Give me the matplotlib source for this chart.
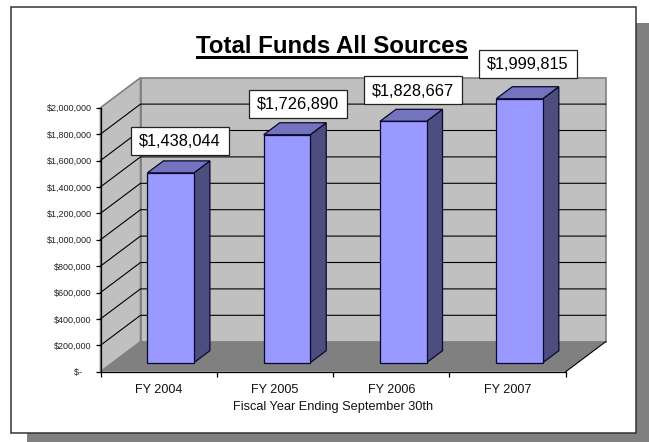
import matplotlib
matplotlib.use("Agg")
import matplotlib.pyplot as plt
from matplotlib.patches import Polygon, Rectangle
from matplotlib.path import Path

plt.rcParams['font.family'] = ['Liberation Sans', 'DejaVu Sans']

# chart values
years = ["FY 2004", "FY 2005", "FY 2006", "FY 2007"]
funds = [1438044, 1726890, 1828667, 1999815]
fund_labels = ["$1,438,044", "$1,726,890", "$1,828,667", "$1,999,815"]
grid_values = [0, 200000, 400000, 600000, 800000, 1000000,
               1200000, 1400000, 1600000, 1800000, 2000000]
grid_labels = ["$-    ", "$200,000", "$400,000", "$600,000", "$800,000", "$1,000,000",
               "$1,200,000", "$1,400,000", "$1,600,000", "$1,800,000", "$2,000,000"]

W, H = 649, 442
fig = plt.figure(figsize=(W / 100, H / 100), dpi=100, facecolor="white")


def px_rect(x0, y0, x1, y1, **kw):
    # rectangle given in image pixels, y pointing down
    return Rectangle((x0 / W, 1 - y1 / H), (x1 - x0) / W, (y1 - y0) / H,
                     transform=fig.transFigure, **kw)


# drop shadow and white frame
fig.add_artist(px_rect(27, 23, 649, 442, facecolor="#808080", edgecolor="none", zorder=-3))
fig.add_artist(px_rect(11, 7, 636, 433, facecolor="white", edgecolor="#333333",
                       linewidth=1.1, zorder=-2))

# front plane of the fake 3d box
ax = fig.add_axes([100.5 / W, 1 - 371.7 / H, 465.2 / W, 264 / H])
ax.set_xlim(0, len(years))
ax.set_ylim(0, 2000000)
ax.patch.set_visible(False)

# depth of the box in data units
dx = 40 / 116.3
dy = 30 / 264 * 2000000
n = len(years)
top = grid_values[-1]

# walls and floor
ax.add_patch(Polygon([(dx, dy), (n + dx, dy), (n + dx, top + dy), (dx, top + dy)],
                     closed=True, facecolor="#C0C0C0", edgecolor="#808080", linewidth=1.2, clip_on=False, zorder=1))
ax.add_patch(Polygon([(0, 0), (dx, dy), (dx, top + dy), (0, top)],
                     closed=True, facecolor="#C0C0C0", edgecolor="#808080", linewidth=1.2, clip_on=False, zorder=1))
ax.add_patch(Polygon([(0, 0), (dx, dy), (n + dx, dy), (n, 0)],
                     closed=True, facecolor="#808080", edgecolor="none", clip_on=False, zorder=1))
ax.plot([n, n + dx], [0, dy], color="black", lw=0.8, clip_on=False, zorder=1.5)

# gridlines run along the side wall then the back wall
for v in grid_values[1:-1]:
    ax.plot([0, dx, n + dx], [v, v + dy, v + dy], color="black", lw=0.8,
            clip_on=False, zorder=1.5)

# bars sit in the middle of the floor depth
gap = 0.3
bar_w = 0.4
d0, d1 = 0.3, 0.7
edge = "#08082A"
for i, v in enumerate(funds):
    x0 = i + gap + d0 * dx
    x1 = x0 + bar_w
    y0 = d0 * dy
    off_x = (d1 - d0) * dx
    off_y = (d1 - d0) * dy
    ax.add_patch(Polygon([(x1, y0), (x1 + off_x, y0 + off_y), (x1 + off_x, y0 + off_y + v), (x1, y0 + v)],
                         closed=True, facecolor="#4D4D80", edgecolor=edge, lw=0.9, clip_on=False, zorder=3))
    ax.add_patch(Polygon([(x0, y0 + v), (x1, y0 + v), (x1 + off_x, y0 + v + off_y), (x0 + off_x, y0 + v + off_y)],
                         closed=True, facecolor="#7373BF", edgecolor=edge, lw=0.9, clip_on=False, zorder=3))
    ax.add_patch(Rectangle((x0, y0), bar_w, v, facecolor="#9999FF", edgecolor=edge, lw=0.9,
                           clip_on=False, zorder=3))


def label_box(x0, y0, w, h, mutation_size):
    # wider than tall padding, like the boxed data labels
    px, py = 8.2, 6.5
    l, b, r, t = x0 - px, y0 - py + 1, x0 + w + px, y0 + h + py + 1
    return Path([(l, b), (r, b), (r, t), (l, t), (l, b)],
                [Path.MOVETO, Path.LINETO, Path.LINETO, Path.LINETO, Path.CLOSEPOLY])


# small nudges of the data labels, in pixels
label_nudge_x = [1.4, 3, 1.7, 0.4]
label_nudge_y = [19, 18, 18, 22]
for i, v in enumerate(funds):
    cx = i + gap + 0.5 * dx + bar_w / 2
    cy = d1 * dy + v
    ax.annotate(fund_labels[i], xy=(cx, cy), xytext=(label_nudge_x[i] * 0.72, label_nudge_y[i] * 0.72),
                textcoords="offset points", ha="center", va="center", fontsize=11.75,
                color="black", zorder=5, annotation_clip=False,
                bbox=dict(boxstyle=label_box, facecolor="white", edgecolor="#222222", linewidth=0.9))

# axes and ticks
for s in ("top", "right"):
    ax.spines[s].set_visible(False)
ax.spines["left"].set_linewidth(0.9)
ax.spines["bottom"].set_linewidth(0.9)
ax.spines["left"].set_zorder(2)
ax.spines["bottom"].set_zorder(2)

ax.set_yticks(grid_values)
ax.set_yticklabels(grid_labels, fontsize=6.5, color="#222222")
ax.tick_params(axis="y", length=3.3, width=0.9, pad=3)
ax.set_xticks(range(n + 1))
ax.set_xticklabels([])
ax.tick_params(axis="x", which="major", length=3.6, width=0.9)
ax.set_xticks([i + 0.5 for i in range(n)], minor=True)
ax.set_xticklabels(years, minor=True, fontsize=9.1, color="#111111")
ax.tick_params(axis="x", which="minor", length=0, pad=8.7)
ax.set_xlabel("Fiscal Year Ending September 30th", fontsize=9.2, color="#111111", labelpad=4)

# underlined title
title = fig.text(332 / W, 1 - 46.3 / H, "Total Funds All Sources", fontsize=17.3,
                 fontweight="bold", ha="center", va="center", color="black")
fig.canvas.draw()
tb = title.get_window_extent()
fig.add_artist(px_rect(tb.x0, 56.2, tb.x1, 58.6, facecolor="black", edgecolor="none"))

fig.savefig("out.png", dpi=100)
